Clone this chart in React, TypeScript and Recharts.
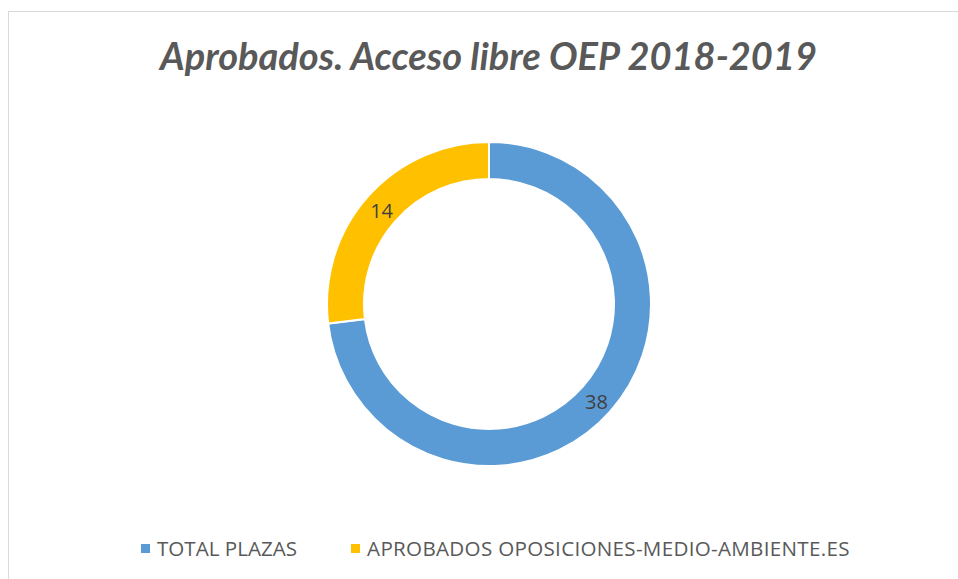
import React from 'react';
import { PieChart, Pie, Cell, Legend } from 'recharts';

const categories = ['TOTAL PLAZAS', 'APROBADOS OPOSICIONES-MEDIO-AMBIENTE.ES'];
const values = [38, 14];
const colors = ['#5B9BD5', '#FFC000'];

const data = categories.map((name, i) => ({ name, value: values[i] }));

const RADIAN = Math.PI / 180;

const renderLabel = (props: any) => {
  const { cx, cy, midAngle, innerRadius, outerRadius, value } = props;
  const r = (innerRadius + outerRadius) / 2;
  const x = cx + r * Math.cos(-midAngle * RADIAN);
  const y = cy + r * Math.sin(-midAngle * RADIAN);
  return (
    <text x={x} y={y + 2} fill="#404040" textAnchor="middle" dominantBaseline="central"
      style={{ fontFamily: 'Open Sans', fontSize: 20 }}>
      {value}
    </text>
  );
};

const renderLegend = () => (
  <div style={{ display: 'flex', fontFamily: 'Open Sans', fontSize: 20.6, color: '#595959', paddingLeft: 141, lineHeight: '24px' }}>
    {data.map((d, i) => (
      <div key={d.name} style={{ display: 'flex', alignItems: 'center', marginRight: 54 }}>
        <span style={{ width: 9, height: 9, background: colors[i], display: 'inline-block', marginRight: 7 }} />
        <span style={{ letterSpacing: i === 1 ? 0.3 : 0 }}>{d.name}</span>
      </div>
    ))}
  </div>
);

export default function App() {
  return (
    <div style={{ position: 'absolute', left: 0, top: 0, width: 958, height: 579, background: '#fff' }}>
      <div style={{
        position: 'absolute', left: 8, top: 11, width: 1000, height: 700,
        borderTop: '1px solid #D9D9D9', borderLeft: '1px solid #D9D9D9',
      }} />
      <div style={{
        position: 'absolute', left: 0, top: 32, width: 977, textAlign: 'center',
        fontFamily: 'Lato', fontWeight: 'bold', fontStyle: 'italic', fontSize: 38, color: '#595959',
      }}>
        Aprobados. Acceso libre OEP 2018-2019
      </div>
      <PieChart width={958} height={579} margin={{ top: 0, right: 0, bottom: 0, left: 0 }}
        style={{ position: 'absolute', left: 0, top: 0 }}>
        <Pie
          data={data}
          dataKey="value"
          nameKey="name"
          cx={489}
          cy={304}
          innerRadius={125}
          outerRadius={162}
          startAngle={90}
          endAngle={-270}
          stroke="#fff"
          strokeWidth={2}
          label={renderLabel}
          labelLine={false}
          isAnimationActive={false}
        >
          {data.map((d, i) => (
            <Cell key={d.name} fill={colors[i]} />
          ))}
        </Pie>
        <Legend content={renderLegend} verticalAlign="bottom" wrapperStyle={{ bottom: 19, left: 0, width: 958 }} />
      </PieChart>
    </div>
  );
}
